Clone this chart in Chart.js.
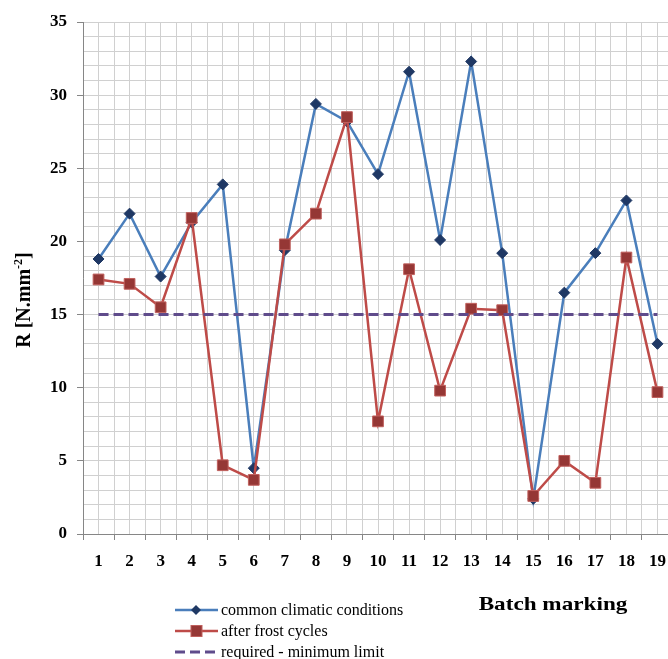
<!DOCTYPE html>
<html>
<head>
<meta charset="utf-8">
<script src="https://cdn.jsdelivr.net/npm/chart.js@4.4.1/dist/chart.umd.min.js"></script>
<style>
  html, body { margin: 0; padding: 0; background: #fff; overflow: hidden; }
  #wrap { position: relative; width: 684px; height: 659px; }
</style>
</head>
<body>
<div id="wrap"><canvas id="chart"></canvas></div>
<script>
// --- dados ---
const batches = [1, 2, 3, 4, 5, 6, 7, 8, 9, 10, 11, 12, 13, 14, 15, 16, 17, 18, 19];
const commonClimatic = [18.8, 21.9, 17.6, 21.3, 23.9, 4.5, 19.4, 29.4, 28.2, 24.6, 31.6, 20.1, 32.3, 19.2, 2.4, 16.5, 19.2, 22.8, 13.0];
const afterFrost = [17.4, 17.1, 15.5, 21.6, 4.7, 3.7, 19.8, 21.9, 28.5, 7.7, 18.1, 9.8, 15.4, 15.3, 2.6, 5.0, 3.5, 18.9, 9.7];
const minimumLimit = [15, 15, 15, 15, 15, 15, 15, 15, 15, 15, 15, 15, 15, 15, 15, 15, 15, 15, 15];
const yTickLabels = [0, 5, 10, 15, 20, 25, 30, 35];
const seriesNames = ['common climatic conditions', 'after frost cycles', 'required - minimum limit'];
const xTitle = 'Batch marking';

const toPoints = (vals) => batches.map((b, i) => ({ x: b, y: vals[i] }));

const BLUE = '#4a7ebb', NAVY = '#1f3864';
const RED = '#be4b48', DARKRED = '#953735';
const PURPLE = '#5f4b8b';
const GRID = '#d0d0d0', AXIS = '#868686';
const SERIF = '"Liberation Serif", "Times New Roman", serif';

// --- textos extra: título do eixo Y, título do eixo X e legenda ---
const extraText = {
    id: 'extraText',
    afterDraw(chart) {
        const ctx = chart.ctx;
        ctx.save();
        ctx.fillStyle = '#000';

        // título Y rodado com expoente
        ctx.translate(30, 300);
        ctx.rotate(-Math.PI / 2);
        const main = 'bold 20px ' + SERIF, sup = 'bold 12px ' + SERIF;
        ctx.font = main;
        const w1 = ctx.measureText('R [N.mm').width;
        const w3 = ctx.measureText(']').width;
        ctx.font = sup;
        const w2 = ctx.measureText('-2').width;
        let x = -(w1 + w2 + w3) / 2;
        ctx.textBaseline = 'alphabetic';
        ctx.font = main;
        ctx.fillText('R [N.mm', x, 0);
        ctx.font = sup;
        ctx.fillText('-2', x + w1, -8);
        ctx.font = main;
        ctx.fillText(']', x + w1 + w2, 0);
        ctx.restore();

        // título X
        ctx.save();
        ctx.font = 'bold 19px ' + SERIF;
        ctx.textAlign = 'center';
        ctx.textBaseline = 'alphabetic';
        ctx.translate(553, 610);
        ctx.scale(1.22, 1);
        ctx.fillText(xTitle, 0, 0);
        ctx.restore();

        // legenda
        const rows = [610, 631, 652];
        chart.data.datasets.forEach((ds, i) => {
            const y = rows[i];
            ctx.save();
            ctx.strokeStyle = ds.borderColor;
            ctx.lineWidth = ds.borderWidth;
            ctx.setLineDash(ds.borderDash || []);
            ctx.beginPath();
            ctx.moveTo(175, y);
            ctx.lineTo(218, y);
            ctx.stroke();
            ctx.setLineDash([]);
            ctx.fillStyle = ds.pointBackgroundColor;
            ctx.strokeStyle = ds.pointBorderColor;
            ctx.lineWidth = 1;
            if (ds.pointStyle === 'rectRot') {
                ctx.beginPath();
                ctx.moveTo(196, y - 5); ctx.lineTo(201, y); ctx.lineTo(196, y + 5); ctx.lineTo(191, y);
                ctx.closePath(); ctx.fill();
            } else if (ds.pointStyle === 'rect') {
                ctx.fillRect(191, y - 5.5, 11, 11);
                ctx.strokeRect(191, y - 5.5, 11, 11);
            }
            ctx.fillStyle = '#000';
            ctx.font = '16px ' + SERIF;
            ctx.textBaseline = 'middle';
            ctx.fillText(ds.label, 221, y + 1);
            ctx.restore();
        });
    }
};

const ctx = document.getElementById('chart').getContext('2d');
new Chart(ctx, {
    type: 'line',
    data: {
        datasets: [
            {
                label: seriesNames[0],
                data: toPoints(commonClimatic),
                borderColor: BLUE, borderWidth: 2.5,
                pointStyle: 'rectRot', pointRadius: 5.5,
                pointBackgroundColor: NAVY, pointBorderColor: NAVY, pointBorderWidth: 1,
                tension: 0, order: 3
            },
            {
                label: seriesNames[1],
                data: toPoints(afterFrost),
                borderColor: RED, borderWidth: 2.5,
                pointStyle: 'rect', pointRadius: 7.6,
                pointBackgroundColor: DARKRED, pointBorderColor: '#c0605d', pointBorderWidth: 1,
                tension: 0, order: 2
            },
            {
                label: seriesNames[2],
                data: toPoints(minimumLimit),
                borderColor: PURPLE, borderWidth: 3, borderDash: [10, 5],
                pointRadius: 0, pointStyle: false,
                tension: 0, order: 1
            }
        ]
    },
    options: {
        responsive: true,
        maintainAspectRatio: false,
        animation: false,
        layout: { padding: { top: 22, left: 0, right: 0, bottom: 0 } },
        plugins: {
            legend: { display: false },
            tooltip: { enabled: false }
        },
        scales: {
            x: {
                type: 'linear',
                min: 0.5, max: 19.5,
                afterFit: (s) => { s.height = 125; },
                border: { color: AXIS, width: 1 },
                grid: {
                    color: GRID, lineWidth: 1, tickLength: 6,
                    tickColor: (c) => (c.tick && Number.isInteger(c.tick.value)) ? 'transparent' : AXIS
                },
                ticks: {
                    stepSize: 0.5, autoSkip: false, maxTicksLimit: 100, maxRotation: 0,
                    padding: 11, color: '#000',
                    font: { family: SERIF, size: 17, weight: 'bold' },
                    callback: (v) => batches.includes(v) ? String(v) : ''
                }
            },
            y: {
                min: 0, max: 35,
                afterFit: (s) => { s.width = 83; },
                border: { color: AXIS, width: 1 },
                grid: {
                    color: GRID, lineWidth: 1, tickLength: 6,
                    tickColor: (c) => (c.tick && yTickLabels.includes(c.tick.value)) ? AXIS : 'transparent'
                },
                ticks: {
                    stepSize: 1, autoSkip: false, maxTicksLimit: 100,
                    padding: 10, color: '#000',
                    font: { family: SERIF, size: 17, weight: 'bold' },
                    callback: (v) => yTickLabels.includes(v) ? String(v) : ''
                }
            }
        }
    },
    plugins: [extraText]
});
</script>
</body>
</html>
